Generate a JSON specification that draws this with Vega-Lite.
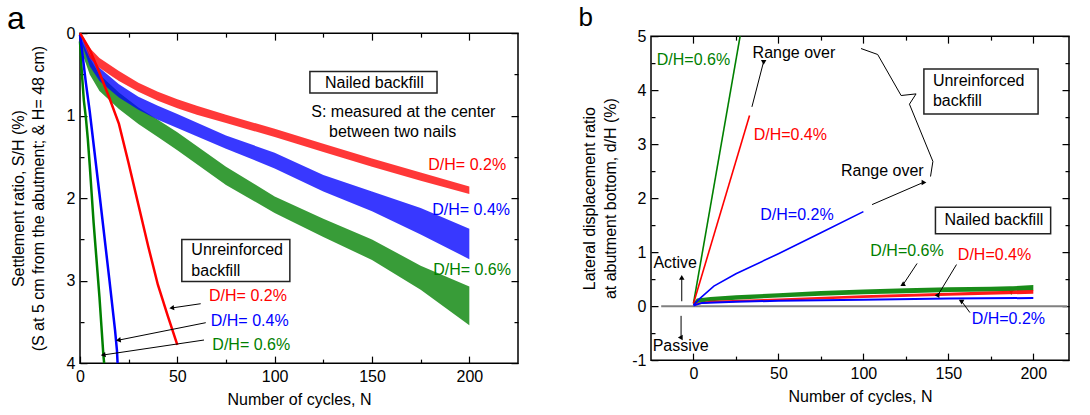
{
  "$schema": "https://vega.github.io/schema/vega-lite/v6.json",
  "background": "white",
  "padding": {"left": 6, "top": 2, "right": 0, "bottom": 0},
  "spacing": 57,
  "center": true,
  "resolve": {"scale": {"color": "independent"}},
  "config": {
    "font": "Liberation Sans",
    "view": {"stroke": "black", "strokeWidth": 1.5},
    "axis": {"domain": false, "grid": false, "tickColor": "black", "tickWidth": 1.2, "labelFontSize": 16, "labelColor": "black", "titleFontSize": 16, "titleFontWeight": "normal", "titleColor": "black", "labelFlush": false, "labelOverlap": false, "labelFont": "Liberation Sans", "titleFont": "Liberation Sans"},
    "text": {"fontSize": 16, "font": "Liberation Sans"}
  },
  "datasets": {
    "nA": [
      {"s": "0.6%", "N": 0, "lo": 0.05, "hi": 0.1}, {"s": "0.6%", "N": 2, "lo": 0.15, "hi": 0.3}, {"s": "0.6%", "N": 5, "lo": 0.3, "hi": 0.5}, {"s": "0.6%", "N": 10, "lo": 0.5, "hi": 0.7}, {"s": "0.6%", "N": 20, "lo": 0.72, "hi": 0.92}, {"s": "0.6%", "N": 30, "lo": 0.9, "hi": 1.1}, {"s": "0.6%", "N": 40, "lo": 1.05, "hi": 1.26}, {"s": "0.6%", "N": 50, "lo": 1.2, "hi": 1.42}, {"s": "0.6%", "N": 75, "lo": 1.62, "hi": 1.84}, {"s": "0.6%", "N": 100, "lo": 1.98, "hi": 2.18}, {"s": "0.6%", "N": 125, "lo": 2.25, "hi": 2.47}, {"s": "0.6%", "N": 150, "lo": 2.5, "hi": 2.75}, {"s": "0.6%", "N": 175, "lo": 2.82, "hi": 3.11}, {"s": "0.6%", "N": 200, "lo": 3.07, "hi": 3.54},
      {"s": "0.4%", "N": 0, "lo": 0, "hi": 0.05}, {"s": "0.4%", "N": 2, "lo": 0.1, "hi": 0.2}, {"s": "0.4%", "N": 5, "lo": 0.25, "hi": 0.4}, {"s": "0.4%", "N": 10, "lo": 0.42, "hi": 0.58}, {"s": "0.4%", "N": 20, "lo": 0.62, "hi": 0.78}, {"s": "0.4%", "N": 30, "lo": 0.77, "hi": 0.93}, {"s": "0.4%", "N": 40, "lo": 0.88, "hi": 1.05}, {"s": "0.4%", "N": 50, "lo": 0.98, "hi": 1.15}, {"s": "0.4%", "N": 75, "lo": 1.24, "hi": 1.4}, {"s": "0.4%", "N": 100, "lo": 1.45, "hi": 1.64}, {"s": "0.4%", "N": 125, "lo": 1.72, "hi": 1.92}, {"s": "0.4%", "N": 150, "lo": 1.92, "hi": 2.16}, {"s": "0.4%", "N": 175, "lo": 2.12, "hi": 2.44}, {"s": "0.4%", "N": 200, "lo": 2.37, "hi": 2.74},
      {"s": "0.2%", "N": 0, "lo": 0, "hi": 0}, {"s": "0.2%", "N": 2, "lo": 0.06, "hi": 0.12}, {"s": "0.2%", "N": 5, "lo": 0.18, "hi": 0.3}, {"s": "0.2%", "N": 10, "lo": 0.3, "hi": 0.42}, {"s": "0.2%", "N": 15, "lo": 0.38, "hi": 0.5}, {"s": "0.2%", "N": 20, "lo": 0.46, "hi": 0.58}, {"s": "0.2%", "N": 30, "lo": 0.6, "hi": 0.71}, {"s": "0.2%", "N": 40, "lo": 0.71, "hi": 0.82}, {"s": "0.2%", "N": 50, "lo": 0.8, "hi": 0.91}, {"s": "0.2%", "N": 60, "lo": 0.88, "hi": 0.99}, {"s": "0.2%", "N": 75, "lo": 0.99, "hi": 1.09}, {"s": "0.2%", "N": 100, "lo": 1.16, "hi": 1.26}, {"s": "0.2%", "N": 125, "lo": 1.34, "hi": 1.44}, {"s": "0.2%", "N": 150, "lo": 1.52, "hi": 1.62}, {"s": "0.2%", "N": 175, "lo": 1.69, "hi": 1.79}, {"s": "0.2%", "N": 200, "lo": 1.86, "hi": 1.95}
    ],
    "uA": [
      {"s": "0.6%", "N": 0, "S": 0.1}, {"s": "0.6%", "N": 0.5, "S": 0.3}, {"s": "0.6%", "N": 1, "S": 0.5}, {"s": "0.6%", "N": 2, "S": 0.82}, {"s": "0.6%", "N": 3, "S": 1.02}, {"s": "0.6%", "N": 4, "S": 1.28}, {"s": "0.6%", "N": 5, "S": 1.6}, {"s": "0.6%", "N": 6, "S": 1.95}, {"s": "0.6%", "N": 7, "S": 2.3}, {"s": "0.6%", "N": 8, "S": 2.6}, {"s": "0.6%", "N": 9, "S": 2.9}, {"s": "0.6%", "N": 10, "S": 3.2}, {"s": "0.6%", "N": 11, "S": 3.55}, {"s": "0.6%", "N": 12, "S": 3.9}, {"s": "0.6%", "N": 12.4, "S": 4.0},
      {"s": "0.4%", "N": 0, "S": 0.02}, {"s": "0.4%", "N": 1, "S": 0.2}, {"s": "0.4%", "N": 3, "S": 0.6}, {"s": "0.4%", "N": 5, "S": 0.95}, {"s": "0.4%", "N": 10, "S": 1.95}, {"s": "0.4%", "N": 15, "S": 2.97}, {"s": "0.4%", "N": 18, "S": 3.6}, {"s": "0.4%", "N": 19, "S": 3.85}, {"s": "0.4%", "N": 19.3, "S": 4.0},
      {"s": "0.2%", "N": 0, "S": 0}, {"s": "0.2%", "N": 5, "S": 0.2}, {"s": "0.2%", "N": 10, "S": 0.48}, {"s": "0.2%", "N": 15, "S": 0.78}, {"s": "0.2%", "N": 20, "S": 1.1}, {"s": "0.2%", "N": 25, "S": 1.58}, {"s": "0.2%", "N": 30, "S": 2.08}, {"s": "0.2%", "N": 35, "S": 2.58}, {"s": "0.2%", "N": 40, "S": 3.05}, {"s": "0.2%", "N": 45, "S": 3.42}, {"s": "0.2%", "N": 50, "S": 3.78}
    ],
    "tcA": [
      {"t": "Nailed backfill", "N": 151.2, "S": 0.6, "s": "note"},
      {"t": "S: measured at the center", "N": 166.1, "S": 0.95, "s": "note"},
      {"t": "between two nails", "N": 160.6, "S": 1.2, "s": "note"}
    ],
    "trA": [
      {"t": "D/H= 0.2%", "N": 218.9, "S": 1.6, "s": "0.2%"},
      {"t": "D/H= 0.4%", "N": 220.9, "S": 2.14, "s": "0.4%"},
      {"t": "D/H= 0.6%", "N": 221.4, "S": 2.87, "s": "0.6%"}
    ],
    "tlA": [
      {"t": "Unreinforced", "N": 57.2, "S": 2.63, "s": "note"},
      {"t": "backfill", "N": 57.2, "S": 2.88, "s": "note"},
      {"t": "D/H= 0.2%", "N": 66.3, "S": 3.19, "s": "0.2%"},
      {"t": "D/H= 0.4%", "N": 67.2, "S": 3.49, "s": "0.4%"},
      {"t": "D/H= 0.6%", "N": 68.0, "S": 3.78, "s": "0.6%"}
    ],
    "bxA": [
      {"N": 52.3, "N2": 107.8, "S": 2.5, "S2": 3.01},
      {"N": 118.1, "N2": 183.4, "S": 0.465, "S2": 0.727}
    ],
    "arA": [
      {"id": "a1", "N": 62.0, "S": 3.28, "N2": 47.5, "S2": 3.33},
      {"id": "a2", "N": 64.6, "S": 3.51, "N2": 20.1, "S2": 3.72},
      {"id": "a3", "N": 63.7, "S": 3.72, "N2": 12.3, "S2": 3.9}
    ],
    "tagA": [{"t": "a", "N": -37.5, "S": -0.05}],
    "zB": [{"N": -19, "N2": 220, "v": 0}],
    "uB": [
      {"s": "0.6%", "N": 0, "v": 0.05}, {"s": "0.6%", "N": 28, "v": 5.1},
      {"s": "0.4%", "N": 0, "v": 0.05}, {"s": "0.4%", "N": 33, "v": 3.53},
      {"s": "0.2%", "N": 0, "v": 0.02}, {"s": "0.2%", "N": 3, "v": 0.12}, {"s": "0.2%", "N": 12, "v": 0.37}, {"s": "0.2%", "N": 25, "v": 0.6}, {"s": "0.2%", "N": 50, "v": 0.97}, {"s": "0.2%", "N": 75, "v": 1.36}, {"s": "0.2%", "N": 100, "v": 1.75}
    ],
    "nB": [
      {"s": "0.6%", "N": 0, "lo": 0.02, "hi": 0.06}, {"s": "0.6%", "N": 2, "lo": 0.06, "hi": 0.14}, {"s": "0.6%", "N": 10, "lo": 0.09, "hi": 0.17}, {"s": "0.6%", "N": 25, "lo": 0.12, "hi": 0.2}, {"s": "0.6%", "N": 50, "lo": 0.16, "hi": 0.24}, {"s": "0.6%", "N": 75, "lo": 0.19, "hi": 0.28}, {"s": "0.6%", "N": 100, "lo": 0.22, "hi": 0.31}, {"s": "0.6%", "N": 125, "lo": 0.24, "hi": 0.33}, {"s": "0.6%", "N": 150, "lo": 0.26, "hi": 0.35}, {"s": "0.6%", "N": 175, "lo": 0.27, "hi": 0.36}, {"s": "0.6%", "N": 186, "lo": 0.28, "hi": 0.37}, {"s": "0.6%", "N": 187, "lo": 0.2, "hi": 0.37}, {"s": "0.6%", "N": 188, "lo": 0.28, "hi": 0.37}, {"s": "0.6%", "N": 200, "lo": 0.29, "hi": 0.39},
      {"s": "0.4%", "N": 0, "lo": 0.02, "hi": 0.05}, {"s": "0.4%", "N": 10, "lo": 0.06, "hi": 0.1}, {"s": "0.4%", "N": 50, "lo": 0.1, "hi": 0.14}, {"s": "0.4%", "N": 100, "lo": 0.15, "hi": 0.2}, {"s": "0.4%", "N": 150, "lo": 0.19, "hi": 0.25}, {"s": "0.4%", "N": 200, "lo": 0.23, "hi": 0.3}
    ],
    "nBl": [
      {"s": "0.2%", "N": 0, "v": 0.01}, {"s": "0.2%", "N": 5, "v": 0.06}, {"s": "0.2%", "N": 25, "v": 0.08}, {"s": "0.2%", "N": 50, "v": 0.1}, {"s": "0.2%", "N": 100, "v": 0.12}, {"s": "0.2%", "N": 150, "v": 0.14}, {"s": "0.2%", "N": 200, "v": 0.15}
    ],
    "brB": [
      {"k": 1, "N": 98.6, "v": 4.77}, {"k": 2, "N": 108.4, "v": 4.66}, {"k": 3, "N": 122.2, "v": 3.9}, {"k": 4, "N": 131.0, "v": 3.93}, {"k": 5, "N": 127.1, "v": 3.74}, {"k": 6, "N": 140.9, "v": 2.68}, {"k": 7, "N": 139.5, "v": 2.4}
    ],
    "arB": [
      {"id": "act", "N": -6.9, "v": 0.09, "N2": -6.9, "v2": 0.52},
      {"id": "pas", "N": -7.3, "v": -0.18, "N2": -7.3, "v2": -0.58},
      {"id": "ro1", "N": 34.4, "v": 3.69, "N2": 41.3, "v2": 4.53},
      {"id": "ro2", "N": 105.1, "v": 1.88, "N2": 135.2, "v2": 2.29},
      {"id": "g", "N": 131.6, "v": 0.79, "N2": 123.4, "v2": 0.4},
      {"id": "r", "N": 154.8, "v": 0.77, "N2": 143.8, "v2": 0.2},
      {"id": "b", "N": 162.7, "v": -0.12, "N2": 157.8, "v2": 0.09}
    ],
    "tlB": [
      {"t": "D/H=0.6%", "N": -21.6, "v": 4.56, "s": "0.6%"},
      {"t": "Range over", "N": 34.8, "v": 4.68, "s": "note"},
      {"t": "D/H=0.4%", "N": 35.4, "v": 3.17, "s": "0.4%"},
      {"t": "Unreinforced", "N": 140.9, "v": 4.16, "s": "note"},
      {"t": "backfill", "N": 140.9, "v": 3.79, "s": "note"},
      {"t": "Range over", "N": 86.8, "v": 2.51, "s": "note"},
      {"t": "D/H=0.2%", "N": 39.3, "v": 1.68, "s": "0.2%"},
      {"t": "D/H=0.6%", "N": 104.1, "v": 1.03, "s": "0.6%"},
      {"t": "D/H=0.4%", "N": 155.6, "v": 0.95, "s": "0.4%"},
      {"t": "D/H=0.2%", "N": 163.7, "v": -0.23, "s": "0.2%"},
      {"t": "Active", "N": -23.6, "v": 0.79, "s": "note"},
      {"t": "Passive", "N": -24, "v": -0.74, "s": "note"}
    ],
    "tcB": [{"t": "Nailed backfill", "N": 176.8, "v": 1.6, "s": "note"}],
    "bxB": [
      {"N": 135.6, "N2": 202.8, "v": 3.56, "v2": 4.39},
      {"N": 142.4, "N2": 210.2, "v": 1.34, "v2": 1.83}
    ],
    "tagB": [{"t": "b", "N": -67.6, "v": 5.18}]
  },
  "hconcat": [
    {
      "width": 438,
      "height": 330,
      "resolve": {"axis": {"x": "independent", "y": "independent"}},
      "layer": [
        {
          "data": {"name": "nA"},
          "mark": {"type": "area", "fillOpacity": 0.78},
          "encoding": {
            "x": {"field": "N", "type": "quantitative", "scale": {"domain": [0, 225], "nice": false, "zero": false},
              "axis": {"orient": "bottom", "values": [0, 25, 50, 75, 100, 125, 150, 175, 200], "labelExpr": "datum.value % 50 === 0 ? '' + datum.value : ''", "tickSize": {"condition": {"test": "datum.value % 50 === 0", "value": -7}, "value": -4}, "labelPadding": 12, "title": "Number of cycles, N", "titlePadding": 4}},
            "y": {"field": "lo", "type": "quantitative", "stack": null, "scale": {"domain": [0, 4], "reverse": true, "nice": false, "zero": false},
              "axis": {"orient": "left", "values": [0, 0.5, 1, 1.5, 2, 2.5, 3, 3.5, 4], "labelExpr": "datum.value % 1 === 0 ? '' + datum.value : ''", "tickSize": {"condition": {"test": "datum.value % 1 === 0", "value": -7}, "value": -4}, "labelPadding": 12, "title": ["Settlement ratio, S/H (%)", "(S at 5 cm from the abutment; & H= 48 cm)"], "titleLineHeight": 20, "titlePadding": 20}},
            "y2": {"field": "hi"},
            "color": {"field": "s", "type": "nominal", "scale": {"domain": ["0.2%", "0.4%", "0.6%", "note"], "range": ["#ff0000", "#0000ff", "#008000", "#000000"]}, "legend": null}
          }
        },
        {
          "data": {"name": "uA"},
          "mark": {"type": "line", "strokeWidth": 2.5},
          "encoding": {
            "x": {"field": "N", "type": "quantitative", "axis": {"orient": "top", "values": [0, 25, 50, 75, 100, 125, 150, 175, 200], "labels": false, "title": null, "tickSize": {"condition": {"test": "datum.value % 50 === 0", "value": -7}, "value": -4}}},
            "y": {"field": "S", "type": "quantitative", "axis": {"orient": "right", "values": [0, 0.5, 1, 1.5, 2, 2.5, 3, 3.5, 4], "labels": false, "title": null, "tickSize": {"condition": {"test": "datum.value % 1 === 0", "value": -7}, "value": -4}}},
            "color": {"field": "s", "type": "nominal", "legend": null}
          }
        },
        {
          "data": {"name": "bxA"},
          "mark": {"type": "rect", "filled": false, "stroke": "#222222", "strokeWidth": 1.5},
          "encoding": {
            "x": {"field": "N", "type": "quantitative", "axis": null}, "x2": {"field": "N2"},
            "y": {"field": "S", "type": "quantitative", "axis": null}, "y2": {"field": "S2"}
          }
        },
        {
          "data": {"name": "arA"},
          "mark": {"type": "rule", "color": "black", "strokeWidth": 1},
          "encoding": {
            "x": {"field": "N", "type": "quantitative", "axis": null}, "x2": {"field": "N2"},
            "y": {"field": "S", "type": "quantitative", "axis": null}, "y2": {"field": "S2"}
          }
        },
        {
          "data": {"name": "arA"},
          "mark": {"type": "point", "shape": "triangle", "filled": true, "color": "black", "size": 30, "angle": 261, "opacity": 1},
          "encoding": {
            "x": {"field": "N2", "type": "quantitative", "axis": null},
            "y": {"field": "S2", "type": "quantitative", "axis": null}
          }
        },
        {
          "data": {"name": "tcA"},
          "mark": {"type": "text", "align": "center", "baseline": "middle", "fontSize": 16},
          "encoding": {
            "x": {"field": "N", "type": "quantitative", "axis": null},
            "y": {"field": "S", "type": "quantitative", "axis": null},
            "text": {"field": "t"},
            "color": {"field": "s", "type": "nominal", "legend": null}
          }
        },
        {
          "data": {"name": "trA"},
          "mark": {"type": "text", "align": "right", "baseline": "middle", "fontSize": 16},
          "encoding": {
            "x": {"field": "N", "type": "quantitative", "axis": null},
            "y": {"field": "S", "type": "quantitative", "axis": null},
            "text": {"field": "t"},
            "color": {"field": "s", "type": "nominal", "legend": null}
          }
        },
        {
          "data": {"name": "tlA"},
          "mark": {"type": "text", "align": "left", "baseline": "middle", "fontSize": 16},
          "encoding": {
            "x": {"field": "N", "type": "quantitative", "axis": null},
            "y": {"field": "S", "type": "quantitative", "axis": null},
            "text": {"field": "t"},
            "color": {"field": "s", "type": "nominal", "legend": null}
          }
        },
        {
          "data": {"name": "tagA"},
          "mark": {"type": "text", "align": "left", "baseline": "alphabetic", "fontSize": 32, "color": "black"},
          "encoding": {
            "x": {"field": "N", "type": "quantitative", "axis": null},
            "y": {"field": "S", "type": "quantitative", "axis": null},
            "text": {"field": "t"}
          }
        }
      ]
    },
    {
      "width": 418,
      "height": 324,
      "resolve": {"axis": {"x": "independent", "y": "independent"}},
      "layer": [
        {
          "data": {"name": "zB"},
          "mark": {"type": "rule", "color": "#808080", "strokeWidth": 2},
          "encoding": {
            "x": {"field": "N", "type": "quantitative", "scale": {"domain": [-25, 221], "nice": false, "zero": false},
              "axis": {"orient": "bottom", "values": [0, 25, 50, 75, 100, 125, 150, 175, 200], "labelExpr": "datum.value % 50 === 0 ? '' + datum.value : ''", "tickSize": {"condition": {"test": "datum.value % 50 === 0", "value": -7}, "value": -4}, "labelPadding": 12, "title": "Number of cycles, N", "titlePadding": 4}},
            "x2": {"field": "N2"},
            "y": {"field": "v", "type": "quantitative", "scale": {"domain": [-1, 5], "nice": false, "zero": false},
              "axis": {"orient": "left", "values": [-1, -0.5, 0, 0.5, 1, 1.5, 2, 2.5, 3, 3.5, 4, 4.5, 5], "labelExpr": "datum.value % 1 === 0 ? '' + datum.value : ''", "tickSize": {"condition": {"test": "datum.value % 1 === 0", "value": -7}, "value": -4}, "labelPadding": 12, "title": ["Lateral displacement ratio", "at abutment bottom, d/H (%)"], "titleLineHeight": 21, "titlePadding": 13}}
          }
        },
        {
          "data": {"name": "nB"},
          "mark": {"type": "area", "fillOpacity": 0.9},
          "encoding": {
            "x": {"field": "N", "type": "quantitative", "axis": {"orient": "top", "values": [0, 25, 50, 75, 100, 125, 150, 175, 200], "labels": false, "title": null, "tickSize": {"condition": {"test": "datum.value % 50 === 0", "value": -7}, "value": -4}}},
            "y": {"field": "lo", "type": "quantitative", "stack": null, "axis": {"orient": "right", "values": [-1, -0.5, 0, 0.5, 1, 1.5, 2, 2.5, 3, 3.5, 4, 4.5, 5], "labels": false, "title": null, "tickSize": {"condition": {"test": "datum.value % 1 === 0", "value": -7}, "value": -4}}},
            "y2": {"field": "hi"},
            "color": {"field": "s", "type": "nominal", "scale": {"domain": ["0.2%", "0.4%", "0.6%", "note"], "range": ["#0000ff", "#ff0000", "#008000", "#000000"]}, "legend": null}
          }
        },
        {
          "data": {"name": "nBl"},
          "mark": {"type": "line", "strokeWidth": 2, "clip": true},
          "encoding": {
            "x": {"field": "N", "type": "quantitative", "axis": null},
            "y": {"field": "v", "type": "quantitative", "axis": null},
            "color": {"field": "s", "type": "nominal", "legend": null}
          }
        },
        {
          "data": {"name": "uB"},
          "mark": {"type": "line", "strokeWidth": 1.6, "clip": true},
          "encoding": {
            "x": {"field": "N", "type": "quantitative", "axis": null},
            "y": {"field": "v", "type": "quantitative", "axis": null},
            "color": {"field": "s", "type": "nominal", "legend": null}
          }
        },
        {
          "data": {"name": "brB"},
          "mark": {"type": "line", "color": "black", "strokeWidth": 1},
          "encoding": {
            "x": {"field": "N", "type": "quantitative", "axis": null},
            "y": {"field": "v", "type": "quantitative", "axis": null},
            "order": {"field": "k", "type": "quantitative"}
          }
        },
        {
          "data": {"name": "bxB"},
          "mark": {"type": "rect", "filled": false, "stroke": "#222222", "strokeWidth": 1.5},
          "encoding": {
            "x": {"field": "N", "type": "quantitative", "axis": null}, "x2": {"field": "N2"},
            "y": {"field": "v", "type": "quantitative", "axis": null}, "y2": {"field": "v2"}
          }
        },
        {
          "data": {"name": "arB"},
          "mark": {"type": "rule", "color": "black", "strokeWidth": 1},
          "encoding": {
            "x": {"field": "N", "type": "quantitative", "axis": null}, "x2": {"field": "N2"},
            "y": {"field": "v", "type": "quantitative", "axis": null}, "y2": {"field": "v2"}
          }
        },
        {
          "data": {"name": "arB"},
          "mark": {"type": "point", "shape": "triangle", "filled": true, "color": "black", "size": 30, "opacity": 1},
          "encoding": {
            "x": {"field": "N2", "type": "quantitative", "axis": null},
            "y": {"field": "v2", "type": "quantitative", "axis": null},
            "angle": {"field": "id", "type": "nominal", "scale": {"domain": ["act", "pas", "ro1", "ro2", "g", "r", "b"], "range": [0, 180, 14.5, 66.5, 213, 211, 324]}, "legend": null}
          }
        },
        {
          "data": {"name": "tlB"},
          "mark": {"type": "text", "align": "left", "baseline": "middle", "fontSize": 16},
          "encoding": {
            "x": {"field": "N", "type": "quantitative", "axis": null},
            "y": {"field": "v", "type": "quantitative", "axis": null},
            "text": {"field": "t"},
            "color": {"field": "s", "type": "nominal", "legend": null}
          }
        },
        {
          "data": {"name": "tcB"},
          "mark": {"type": "text", "align": "center", "baseline": "middle", "fontSize": 16},
          "encoding": {
            "x": {"field": "N", "type": "quantitative", "axis": null},
            "y": {"field": "v", "type": "quantitative", "axis": null},
            "text": {"field": "t"},
            "color": {"field": "s", "type": "nominal", "legend": null}
          }
        },
        {
          "data": {"name": "tagB"},
          "mark": {"type": "text", "align": "left", "baseline": "alphabetic", "fontSize": 26, "color": "black"},
          "encoding": {
            "x": {"field": "N", "type": "quantitative", "axis": null},
            "y": {"field": "v", "type": "quantitative", "axis": null},
            "text": {"field": "t"}
          }
        }
      ]
    }
  ]
}
